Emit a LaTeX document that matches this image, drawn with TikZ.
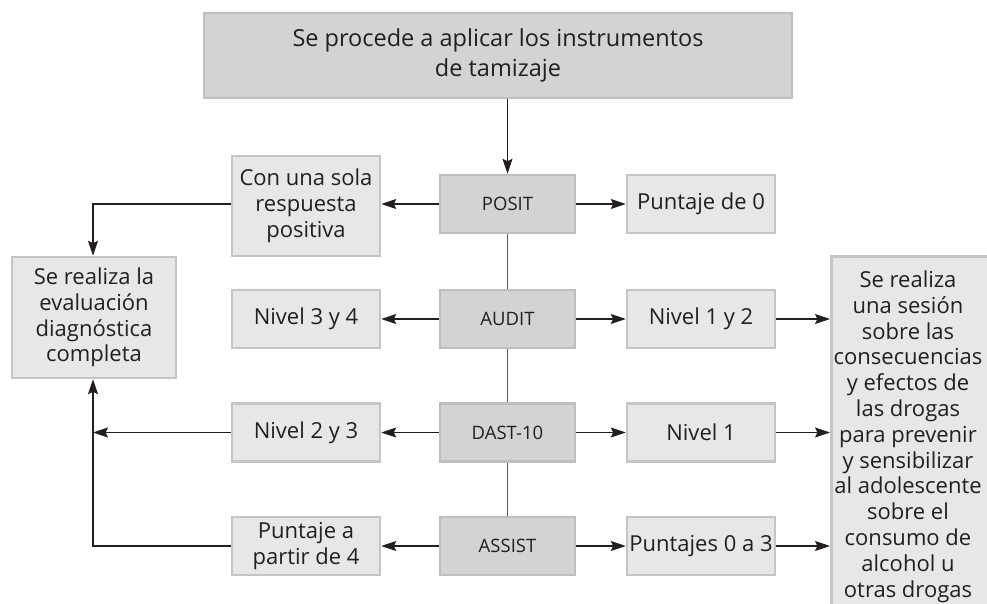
\documentclass[tikz,border=0pt]{standalone}
\usepackage{fontspec}
\setmainfont{Open Sans}
\usetikzlibrary{arrows.meta,calc}
\definecolor{txt}{HTML}{231F20}
\definecolor{lightfill}{HTML}{E6E7E8}
\definecolor{lightedge}{HTML}{C4C5C7}
\definecolor{darkfill}{HTML}{D1D3D4}
\definecolor{darkedge}{HTML}{BCBEC0}
\definecolor{vline}{HTML}{58595B}
\tikzset{
  lbox/.style={draw=lightedge, fill=lightfill, line width=2.5pt, inner sep=0pt, align=center,
    text=txt, font=\fontsize{22}{25.8}\selectfont},
  dbox/.style={draw=darkedge, fill=darkfill, line width=2.5pt, inner sep=0pt, align=center,
    text=txt, font=\fontsize{18.5}{21}\selectfont, minimum width=135pt, minimum height=58pt},
  arr/.style={draw=txt, line width=1.3pt, -{Stealth[length=15pt,width=10pt,inset=2.5pt]}},
  vconn/.style={draw=vline, line width=1.8pt}
}
\begin{document}
\begin{tikzpicture}[x=1pt,y=-1pt]
\useasboundingbox (0,0) rectangle (987,604);
\clip (0,0) rectangle (987,604);
% top
\node[dbox, minimum width=588pt, minimum height=85pt, font=\fontsize{23.5}{30}\selectfont] (top) at (498,55.5)
  {Se procede a aplicar los instrumentos\\de tamizaje};
% centre column
\node[dbox] (posit) at (507.5,204) {POSIT};
\node[dbox] (audit) at (507.5,319) {AUDIT};
\node[dbox] (dast) at (507.5,432.5) {DAST-10};
\node[dbox] (assist) at (507.5,546) {ASSIST};
% left column
\node[lbox, minimum width=148pt, minimum height=100pt] (sola) at (306,206) {Con una sola\\respuesta\\positiva};
\node[lbox, minimum width=148pt, minimum height=58pt] (n34) at (306,319) {Nivel 3 y 4};
\node[lbox, minimum width=148pt, minimum height=58pt] (n23) at (306,432.5) {Nivel 2 y 3};
\node[lbox, minimum width=148pt, minimum height=58pt] (p4) at (306,546) {Puntaje a\\partir de 4};
% right column
\node[lbox, minimum width=148pt, minimum height=58pt] (p0) at (701,204) {Puntaje de 0};
\node[lbox, minimum width=148pt, minimum height=58pt] (n12) at (701,319) {Nivel 1 y 2};
\node[lbox, minimum width=148pt, minimum height=58pt] (n1) at (701,432.5) {Nivel 1};
\node[lbox, minimum width=148pt, minimum height=58pt] (p03) at (701,546) {Puntajes 0 a 3};
% far left
\node[lbox, minimum width=164pt, minimum height=121pt] (eval) at (94,317.5)
  {Se realiza la\\evaluación\\diagnóstica\\completa};
% far right
\node[lbox, minimum width=170pt, minimum height=365pt, anchor=north west] (sess) at (830,255) {};
\node[text=txt, font=\fontsize{22}{25.8}\selectfont, align=center, anchor=north, inner sep=0pt] (sesstext) at (908,270.5)
  {Se realiza\\una sesión\\sobre las\\consecuencias\\y efectos de\\las drogas\\para prevenir\\y sensibilizar\\al adolescente\\sobre el\\consumo de\\alcohol u\\otras drogas};
% coordinates for left trunk
\coordinate (c1) at (93,204);
\coordinate (c2) at (93,432.5);
\coordinate (c3) at (93,546);
% connectors
\draw[arr] (top.south -| posit.north) -- (posit.north);
\draw[vconn] (posit) -- (audit);
\draw[vconn] (audit) -- (dast);
\draw[vconn] (dast) -- (assist);
\draw[arr] (posit.west) -- (posit.west -| sola.east);
\draw[arr] (audit) -- (n34);
\draw[arr] (dast) -- (n23);
\draw[arr] (assist) -- (p4);
\draw[arr] (posit) -- (p0);
\draw[arr] (audit) -- (n12);
\draw[arr] (dast) -- (n1);
\draw[arr] (assist) -- (p03);
\draw[arr] (n12.east) -- (n12.east -| sess.west);
\draw[arr] (n1.east) -- (n1.east -| sess.west);
\draw[arr] (p03.east) -- (p03.east -| sess.west);
\draw[arr] (sola.west |- c1) -- (c1) -- (c1 |- eval.north);
\draw[arr] (n23.west) -- (c2);
\draw[arr] (p4.west |- c3) -- (c3) -- (c3 |- eval.south);
\end{tikzpicture}
\end{document}
